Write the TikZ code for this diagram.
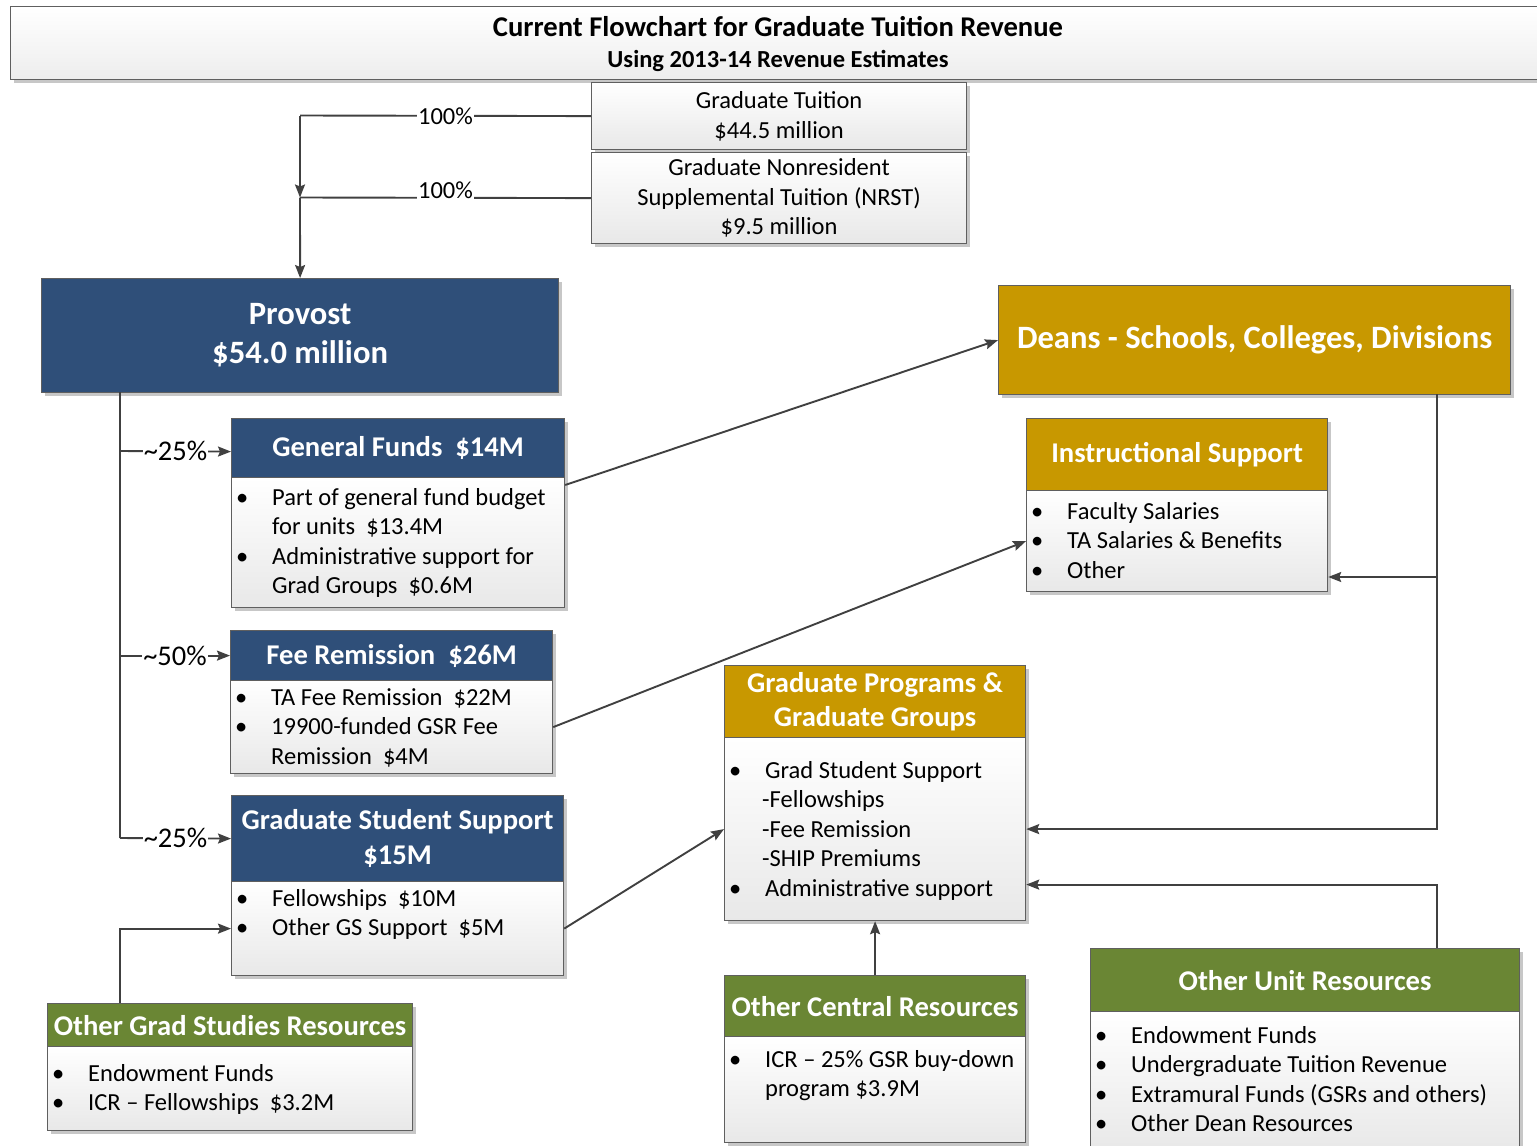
\documentclass[tikz,border=0pt]{standalone}
\usepackage{fontspec}
\setmainfont{Carlito}
\usetikzlibrary{arrows.meta,shadows}
\definecolor{navy}{RGB}{47,79,121}
\definecolor{gold}{RGB}{200,152,0}
\definecolor{olive}{RGB}{106,134,52}
\definecolor{bordergray}{RGB}{95,95,95}
\definecolor{linegray}{RGB}{64,64,64}
\newcommand\bitem{\makebox[36pt][l]{\textbullet}}
\newcommand\cont{\hspace*{36pt}}
\tikzset{
  conn/.style={draw=linegray, line width=1.9pt},
  arr/.style={conn, -{Stealth[length=13pt,width=10pt,inset=2pt]}},
  shad/.style={drop shadow={shadow xshift=3pt, shadow yshift=-3pt, fill=black!22, opacity=1}},
  hdr/.style={draw=bordergray, line width=1.2pt, inner sep=0pt, anchor=north west, text=white,
    font=\fontsize{28.6}{34.5}\bfseries\selectfont, align=center, shad},
  bodybox/.style={draw=bordergray, line width=1.2pt, inner sep=0pt, anchor=north west,
    top color=white, bottom color=black!9, shad},
  btext/.style={anchor=north west, inner sep=0pt, align=left, font=\fontsize{24.5}{29.5}\selectfont},
  pct/.style={fill=white, inner sep=1pt, font=\fontsize{28.5}{30}\selectfont},
  lab/.style={fill=white, inner sep=1pt, font=\fontsize{24.5}{28}\selectfont},
}
\begin{document}
\begin{tikzpicture}[x=1pt,y=-1pt]
\useasboundingbox (0,0) rectangle (1537,1146);
\clip (0,0) rectangle (1537,1146);
% title
\node[bodybox, bottom color=black!7, minimum width=1535pt, minimum height=73pt] (title) at (10,6) {};
\node[anchor=base, inner sep=0pt, font=\fontsize{28.6}{30}\bfseries\selectfont] (t1) at (778,36) {Current Flowchart for Graduate Tuition Revenue};
\node[anchor=base, inner sep=0pt, font=\fontsize{24.5}{28}\bfseries\selectfont] (t2) at (778,67) {Using 2013-14 Revenue Estimates};
% sources
\node[bodybox, minimum width=375pt, minimum height=67pt, align=center, font=\fontsize{24.5}{30}\selectfont] (gt) at (591,82) {Graduate Tuition\\\$44.5 million};
\node[bodybox, minimum width=375pt, minimum height=91pt, align=center, font=\fontsize{24.5}{29.5}\selectfont] (nrst) at (591,152) {Graduate Nonresident\\Supplemental Tuition (NRST)\\\$9.5 million};
% provost / deans
\node[hdr, fill=navy, minimum width=517pt, minimum height=114pt, font=\fontsize{32.6}{39}\bfseries\selectfont] (prov) at (41,278) {Provost\\\$54.0 million};
\node[hdr, fill=gold, minimum width=512pt, minimum height=109pt, font=\fontsize{32.6}{39}\bfseries\selectfont] (deans) at (998,285) {Deans - Schools, Colleges, Divisions};
% general funds
\node[hdr, fill=navy, minimum width=333pt, minimum height=59pt] (gfh) at (231,418) {General Funds\ \ \$14M};
\node[bodybox, minimum width=333pt, minimum height=130pt] (gfb) at (231,477) {};
\node[btext] (gft) at (236,484.3) {\strut\bitem Part of general fund budget\\\cont for units\ \ \$13.4M\\\bitem Administrative support for\\\cont Grad Groups\ \ \$0.6M};
% fee remission
\node[hdr, fill=navy, minimum width=322pt, minimum height=50pt] (feh) at (230,630) {Fee Remission\ \ \$26M};
\node[bodybox, minimum width=322pt, minimum height=93pt] (feb) at (230,680) {};
\node[btext] (fet) at (235,684.3) {\strut\bitem TA Fee Remission\ \ \$22M\\\bitem 19900-funded GSR Fee\\\cont Remission\ \ \$4M};
% graduate student support
\node[hdr, fill=navy, minimum width=332pt, minimum height=86pt] (gsh) at (231,795) {Graduate Student Support\\\$15M};
\node[bodybox, minimum width=332pt, minimum height=94pt] (gsb) at (231,881) {};
\node[btext] (gst) at (236,885.3) {\strut\bitem Fellowships\ \ \$10M\\\bitem Other GS Support\ \ \$5M};
% other grad studies resources
\node[hdr, fill=olive, minimum width=365pt, minimum height=43pt] (ogh) at (47,1003) {Other Grad Studies Resources};
\node[bodybox, minimum width=365pt, minimum height=84pt] (ogb) at (47,1046) {};
\node[btext] (ogt) at (52,1060.3) {\strut\bitem Endowment Funds\\\bitem ICR \textendash{} Fellowships\ \ \$3.2M};
% instructional support
\node[hdr, fill=gold, minimum width=301pt, minimum height=72pt] (ish) at (1026,418) {Instructional Support};
\node[bodybox, minimum width=301pt, minimum height=101pt] (isb) at (1026,490) {};
\node[btext] (ist) at (1031,498.3) {\strut\bitem Faculty Salaries\\\bitem TA Salaries \& Benefits\\\bitem Other};
% graduate programs
\node[hdr, fill=gold, minimum width=301pt, minimum height=72pt] (gph) at (724,665) {Graduate Programs \&\\Graduate Groups};
\node[bodybox, minimum width=301pt, minimum height=183pt] (gpb) at (724,737) {};
\node[btext] (gpt) at (729,757.3) {\strut\bitem Grad Student Support\\\hspace*{33pt}-Fellowships\\\hspace*{33pt}-Fee Remission\\\hspace*{33pt}-SHIP Premiums\\\bitem Administrative support};
% other central resources
\node[hdr, fill=olive, minimum width=301pt, minimum height=61pt] (och) at (724,975) {Other Central Resources};
\node[bodybox, minimum width=301pt, minimum height=106pt] (ocb) at (724,1036) {};
\node[btext] (oct) at (729,1046.3) {\strut\bitem ICR \textendash{} 25\% GSR buy-down\\\cont program \$3.9M};
% other unit resources
\node[hdr, fill=olive, minimum width=429pt, minimum height=63pt] (ouh) at (1090,948) {Other Unit Resources};
\node[bodybox, minimum width=429pt, minimum height=140pt] (oub) at (1090,1011) {};
\node[btext] (out) at (1095,1022.3) {\strut\bitem Endowment Funds\\\bitem Undergraduate Tuition Revenue\\\bitem Extramural Funds (GSRs and others)\\\bitem Other Dean Resources};
% connectors: sources to provost
\coordinate (j0) at (300,115.5);
\coordinate (jn) at (300,197.5);
\draw[conn] (gt.west) -- node[lab]{100\%} (j0);
\draw[arr] (j0) -- (jn);
\draw[conn] (nrst.west) -- node[lab, yshift=8pt]{100\%} (jn);
\draw[arr] (jn) -- (prov.north);
% provost trunk
\coordinate (p0) at (120,392);
\coordinate (p3) at (120,838);
\draw[conn] (p0) -- (p3);
\draw[arr] (p0 |- 0,451) -- node[pct]{\textasciitilde25\%} ([yshift=-3.5pt]gfh.west);
\draw[arr] (p0 |- feh.west) -- node[pct]{\textasciitilde50\%} (feh.west);
\draw[arr] (p3) -- node[pct]{\textasciitilde25\%} (gsh.west);
% diagonals
\draw[arr] ([yshift=-8pt]gfb.north east) -- (deans.west);
\draw[arr] (feb.east) -- (isb.west);
\draw[arr] (gsb.east) -- (gpb.west);
% other grad studies up to GSS
\coordinate (o0) at (120,1003);
\draw[arr] (o0) |- (gsb.west);
% deans down
\coordinate (d0) at (1437,394);
\coordinate (d1) at (1437,577);
\draw[arr] (d0) |- (gpb.east);
\draw[arr] (d1) -- (d1 -| isb.east);
% other unit up
\coordinate (u0) at (1437,948);
\draw[arr] (u0) |- ([yshift=-55.5pt]gpb.east);
% other central up
\draw[arr] (och.north) -- (gpb.south);
\end{tikzpicture}
\end{document}
